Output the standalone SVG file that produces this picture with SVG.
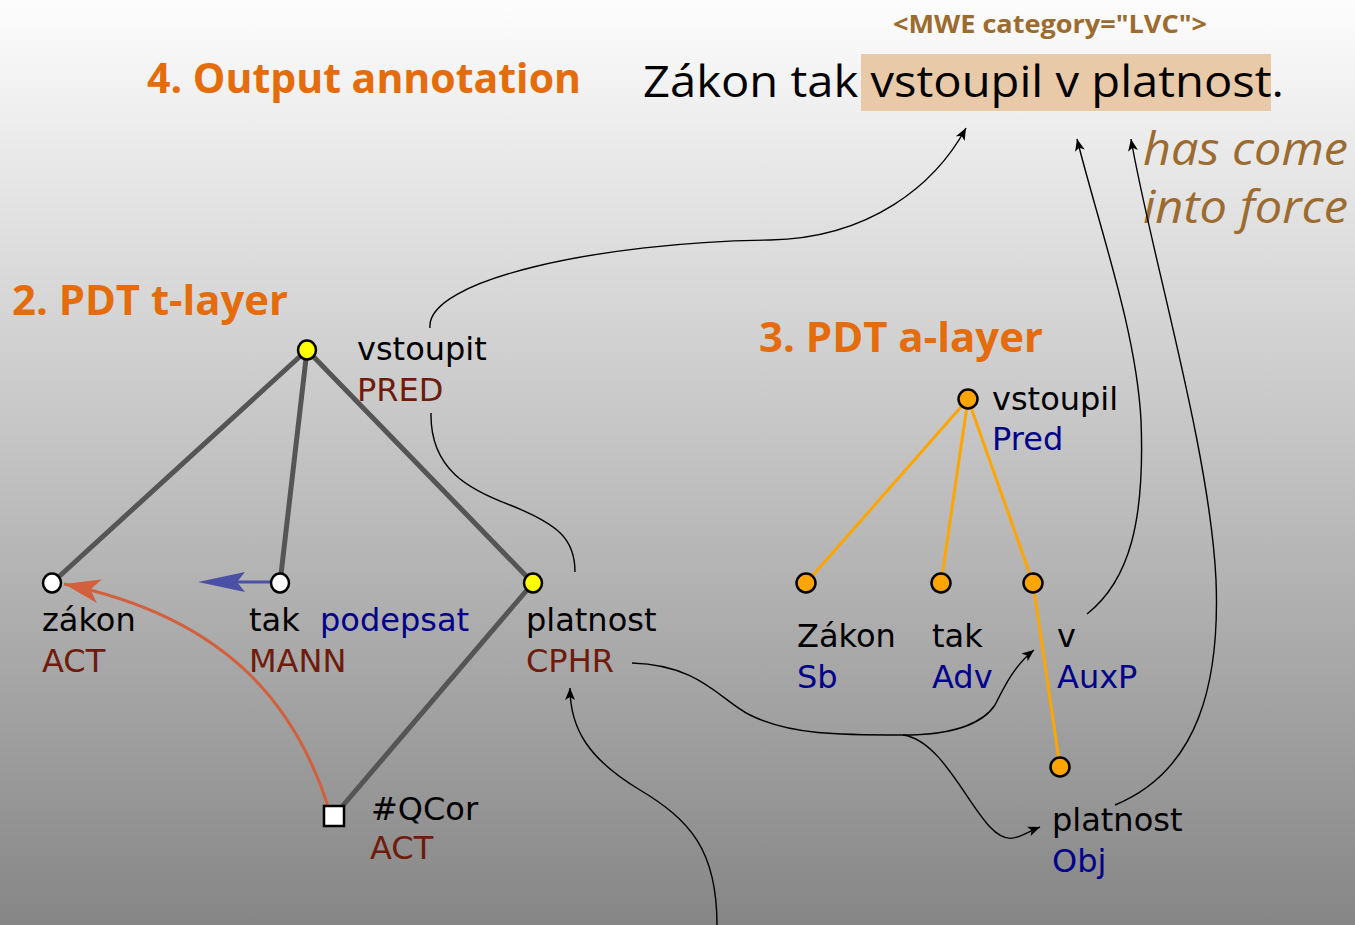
<svg xmlns="http://www.w3.org/2000/svg" width="1355" height="925" viewBox="0 0 1355 925">
<defs>
<linearGradient id="bg" x1="0" y1="0" x2="0" y2="1">
<stop offset="0" stop-color="#fdfdfd"/>
<stop offset="1" stop-color="#868686"/>
</linearGradient>
<marker id="arr" viewBox="-13 -6 14 12" refX="0" refY="0" markerWidth="14" markerHeight="12" markerUnits="userSpaceOnUse" orient="auto">
<path d="M0,0 L-12,-5 L-9,0 L-12,5 Z" fill="#000"/>
</marker>
<marker id="arrO" viewBox="-38 -14 40 28" refX="0" refY="0" markerWidth="40" markerHeight="28" markerUnits="userSpaceOnUse" orient="auto">
<path d="M0,0 L-36,-12 L-27,0 L-36,12 Z" fill="#d2603c"/>
</marker>
<style>
.h{font-family:"Open Sans","Noto Sans",sans-serif;font-weight:bold;font-size:42px;fill:#e46c0a}
.lbl{font-family:"DejaVu Sans",sans-serif;font-size:32px}
.w{fill:#000}
.fn{fill:#6e1b0b}
.af{fill:#00008b}
.br{fill:#9c6b30;font-family:"Open Sans","Noto Sans",sans-serif}
.te{stroke:#555;stroke-width:5;fill:none;stroke-linecap:round}
.ae{stroke:#ffa500;stroke-width:3;fill:none}
.an{fill:#ffa500;stroke:#000;stroke-width:2.5}
.tn{stroke:#000;stroke-width:2.5}
.c{fill:none;stroke:#000;stroke-width:1.4}
</style>
</defs>
<rect x="0" y="0" width="1355" height="925" fill="url(#bg)"/>

<g id="titles">
<text class="h" x="147" y="93" textLength="434" lengthAdjust="spacingAndGlyphs">4. Output annotation</text>
<text class="h" x="12" y="315" textLength="276" lengthAdjust="spacingAndGlyphs">2. PDT t-layer</text>
<text class="h" x="759" y="352" textLength="284" lengthAdjust="spacingAndGlyphs">3. PDT a-layer</text>
</g>

<g id="sentence">
<rect x="861" y="54" width="410" height="57" fill="#e8c9a8"/>
<text x="893" y="33" class="br" font-weight="bold" font-size="25" textLength="314" lengthAdjust="spacingAndGlyphs">&lt;MWE category="LVC"&gt;</text>
<text x="643" y="97" font-family="Open Sans, Noto Sans, sans-serif" font-size="44" fill="#000" textLength="641" lengthAdjust="spacingAndGlyphs">Zákon tak vstoupil v platnost.</text>
<text x="1143" y="165" class="br" font-style="italic" font-size="46" textLength="205" lengthAdjust="spacingAndGlyphs">has come</text>
<text x="1143" y="223" class="br" font-style="italic" font-size="46" textLength="205" lengthAdjust="spacingAndGlyphs">into force</text>
</g>

<g id="t-edges">
<line class="te" x1="307" y1="350" x2="52" y2="583"/>
<line class="te" x1="307" y1="350" x2="280" y2="583"/>
<line class="te" x1="307" y1="350" x2="533" y2="583"/>
<line class="te" x1="533" y1="583" x2="334" y2="816"/>
</g>

<g id="a-edges">
<line class="ae" x1="968" y1="399" x2="806" y2="583"/>
<line class="ae" x1="968" y1="399" x2="941" y2="583"/>
<line class="ae" x1="968" y1="399" x2="1033" y2="583"/>
<line class="ae" x1="1033" y1="583" x2="1060" y2="767"/>
</g>

<g id="connectors">
<path class="c" marker-end="url(#arr)" d="M430,328 C425,280 600,242 770,240 C870,238 935,185 966,128"/>
<path class="c" d="M431,413 C430,470 470,490 510,505 C560,525 575,540 575,572"/>
<path class="c" marker-end="url(#arr)" d="M632,663 C700,665 720,700 750,715 C790,735 840,735 903,735 C960,735 985,720 995,705 C1005,685 1015,665 1034,650"/>
<path class="c" marker-end="url(#arr)" d="M903,735 C940,740 965,800 990,827 C1010,848 1020,835 1040,827"/>
<path class="c" marker-end="url(#arr)" d="M717,925 C717,850 690,820 640,790 C590,760 570,730 570,688"/>
<path class="c" marker-end="url(#arr)" d="M1087,614 C1130,580 1145,520 1141,420 C1136,330 1100,230 1077,139"/>
<path class="c" marker-end="url(#arr)" d="M1115,805 C1200,770 1220,680 1216,580 C1210,450 1150,250 1131,139"/>
<path d="M328,806 C300,720 240,620 64,584" fill="none" stroke="#d2603c" stroke-width="3" marker-end="url(#arrO)"/>
<line x1="272" y1="582" x2="230" y2="582" stroke="#4b50a5" stroke-width="3"/>
<polygon points="198,582 245,572 237,582 245,592" fill="#4b50a5"/>
</g>

<g id="t-vstoupit">
<ellipse class="tn" cx="307" cy="350" rx="9" ry="9.5" fill="#ffff00"/>
<text class="lbl w" x="357" y="360">vstoupit</text>
<text class="lbl fn" x="357" y="401">PRED</text>
</g>
<g id="t-zakon">
<ellipse class="tn" cx="52" cy="583" rx="9" ry="9.5" fill="#fff"/>
<text class="lbl w" x="42" y="631">zákon</text>
<text class="lbl fn" x="42" y="672">ACT</text>
</g>
<g id="t-tak">
<ellipse class="tn" cx="280" cy="583" rx="9" ry="9.5" fill="#fff"/>
<text class="lbl w" x="249" y="631">tak</text>
<text class="lbl af" x="320" y="631">podepsat</text>
<text class="lbl fn" x="249" y="672">MANN</text>
</g>
<g id="t-platnost">
<ellipse class="tn" cx="533" cy="583" rx="9" ry="9.5" fill="#ffff00"/>
<text class="lbl w" x="526" y="631">platnost</text>
<text class="lbl fn" x="526" y="672">CPHR</text>
</g>
<g id="t-qcor">
<rect class="tn" x="324" y="806" width="20" height="20" fill="#fff"/>
<text class="lbl w" x="371" y="820">#QCor</text>
<text class="lbl fn" x="370" y="859">ACT</text>
</g>

<g id="a-vstoupil">
<circle class="an" cx="968" cy="399" r="9.5"/>
<text class="lbl w" x="992" y="410">vstoupil</text>
<text class="lbl af" x="992" y="450">Pred</text>
</g>
<g id="a-zakon">
<circle class="an" cx="806" cy="583" r="9.5"/>
<text class="lbl w" x="797" y="647">Zákon</text>
<text class="lbl af" x="797" y="688">Sb</text>
</g>
<g id="a-tak">
<circle class="an" cx="941" cy="583" r="9.5"/>
<text class="lbl w" x="932" y="647">tak</text>
<text class="lbl af" x="932" y="688">Adv</text>
</g>
<g id="a-v">
<circle class="an" cx="1033" cy="583" r="9.5"/>
<text class="lbl w" x="1057" y="647">v</text>
<text class="lbl af" x="1057" y="688">AuxP</text>
</g>
<g id="a-platnost">
<circle class="an" cx="1060" cy="767" r="9.5"/>
<text class="lbl w" x="1052" y="831">platnost</text>
<text class="lbl af" x="1052" y="872">Obj</text>
</g>
</svg>
